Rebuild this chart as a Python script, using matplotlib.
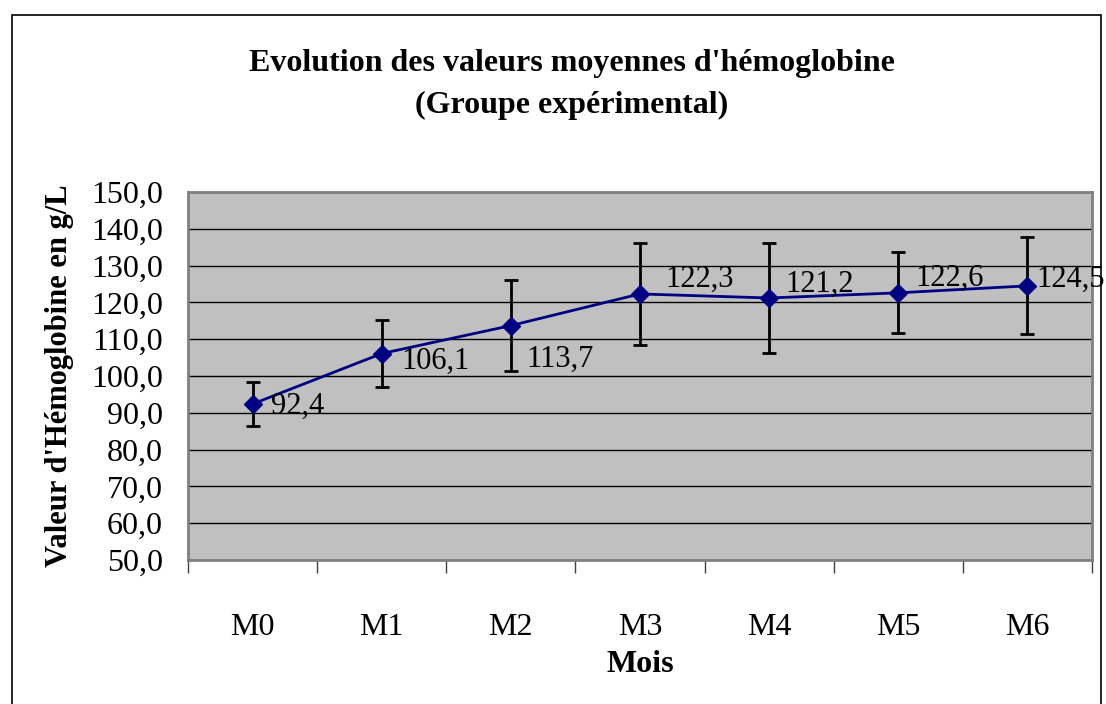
import numpy as np
import matplotlib.pyplot as plt
import matplotlib.ticker as ticker
from matplotlib.patches import Rectangle

# données
mois = ["M0", "M1", "M2", "M3", "M4", "M5", "M6"]
moyennes = [92.4, 106.1, 113.7, 122.3, 121.2, 122.6, 124.5]
ecarts = [6.1, 9.2, 12.3, 13.8, 15.0, 11.0, 13.2]

# décalage des étiquettes (pixels), comme placées à la main dans Excel
label_dx = [18, 20, 16, 25, 16, 17, 9]
label_dy = [-2, -8, -34, 15, 14, 15, 7]

plt.rcParams["font.family"] = ["Liberation Serif", "DejaVu Serif"]
FS = 23

fig = plt.figure(figsize=(11.06, 7.04), dpi=100)
W, H = 1106, 704
ax = fig.add_axes([188 / W, 1 - 560 / H, (1092 - 188) / W, (560 - 192) / H])

# cadre extérieur du graphique
fig.patches.append(Rectangle((12 / W, -0.05), (1101 - 12) / W, 1 - 15 / H + 0.05,
                             transform=fig.transFigure, fill=False,
                             edgecolor="black", linewidth=1.2))

x = np.arange(len(mois))
ax.set_facecolor("#C0C0C0")
ax.errorbar(x, moyennes, yerr=ecarts, fmt="none", ecolor="black",
            elinewidth=2, capsize=5, capthick=2, zorder=3)
ax.plot(x, moyennes, color="#000080", linewidth=2, marker="D",
        markersize=9, zorder=4)

for i, v in enumerate(moyennes):
    ax.annotate(f"{v:.1f}".replace(".", ","), (x[i], v),
                xytext=(label_dx[i], label_dy[i]), textcoords="offset pixels",
                ha="left", va="center", fontsize=22, zorder=5)

ax.set_xlim(-0.5, len(mois) - 0.5)
ax.set_ylim(50, 150)
ax.set_yticks(np.arange(50, 151, 10))
ax.yaxis.set_major_formatter(ticker.FuncFormatter(lambda v, p: f"{v:.1f}".replace(".", ",")))
ax.grid(axis="y", color="black", linewidth=1)
ax.set_axisbelow(True)

ax.set_xticks(x)
ax.set_xticklabels(mois)
ax.set_xticks(np.arange(-0.5, len(mois), 1), minor=True)
ax.tick_params(axis="x", which="major", length=0, pad=38, labelsize=FS)
ax.tick_params(axis="x", which="minor", length=9, width=1, color="#404040")
ax.tick_params(axis="y", length=0, pad=18, labelsize=FS)

for s in ax.spines.values():
    s.set_color("#808080")
    s.set_linewidth(2)

ax.set_xlabel("Mois", fontsize=FS, fontweight="bold", labelpad=6)
ax.set_ylabel("Valeur d'Hémoglobine en g/L", fontsize=22, fontweight="bold", labelpad=12)

fig.text(572 / W, 1 - 64 / H, "Evolution des valeurs moyennes d'hémoglobine",
         ha="center", va="center", fontsize=FS, fontweight="bold")
fig.text(572 / W, 1 - 105 / H, "(Groupe expérimental)",
         ha="center", va="center", fontsize=FS, fontweight="bold")

fig.savefig("out.png", dpi=100)
